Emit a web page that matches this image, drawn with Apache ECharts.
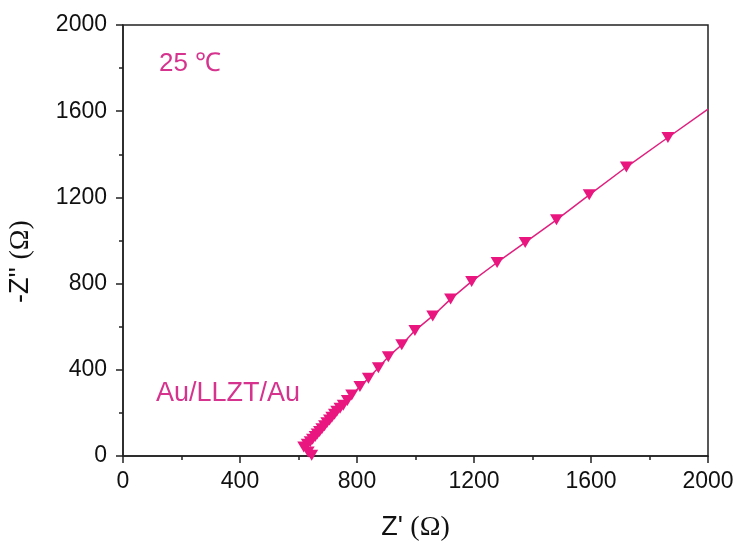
<!DOCTYPE html>
<html>
<head>
<meta charset="utf-8">
<script src="https://cdn.jsdelivr.net/npm/echarts@6/dist/echarts.min.js"></script>
<style>
html, body { margin: 0; padding: 0; background: #fff; }
#chart { width: 738px; height: 544px; }
</style>
</head>
<body>
<div id="chart"></div>
<script>
// measured points (Z', -Z'')
var zReal = [645, 633, 618, 630, 640, 648, 657, 664, 672, 680, 689, 697, 706, 714, 723, 731, 742, 753, 767, 782, 810, 839, 873, 907, 953, 998, 1059, 1120, 1192, 1279, 1375, 1482, 1594, 1721, 1863];
var zImag = [3, 18, 42, 55, 66, 78, 90, 102, 114, 126, 140, 154, 167, 180, 194, 208, 221, 236, 258, 283, 322, 361, 410, 461, 516, 582, 650, 728, 810, 898, 991, 1096, 1212, 1341, 1478];
// fitted line continues to the right edge
var fitEndX = [2000];
var fitEndY = [1610];
var xTicks = [0, 400, 800, 1200, 1600, 2000];
var yTicks = [0, 400, 800, 1200, 1600, 2000];

var pts = [];
for (var i = 0; i < zReal.length; i++) {
	pts.push([zReal[i], zImag[i]]);
}
var linePts = pts.concat([[fitEndX[0], fitEndY[0]]]);

var myChart = echarts.init(document.getElementById('chart'));

var axisCommon = {
	type : 'value',
	interval : 400,
	splitLine : { show : false },
	axisLine : { show : true, onZero : false, lineStyle : { color : '#222', width : 1.5 } },
	axisTick : { show : true, inside : false, length : 7, lineStyle : { color : '#222', width : 1.5 } },
	minorTick : { show : true, splitNumber : 2, length : 4, lineStyle : { color : '#222', width : 1.5 } },
	axisLabel : {
		color : '#111', fontSize : 23, fontFamily : 'Liberation Sans, Arial',
		formatter : function(v) { return String(v); }
	}
};

var nameStyle = {
	color : '#111', fontSize : 27, fontFamily : 'Liberation Sans, Arial',
	rich : { o : { fontSize : 28, fontFamily : 'Liberation Serif, Times New Roman', color : '#111' } }
};

var option = {
	animation : false,
	grid : {
		left : 123,
		top : 25,
		right : 30,
		bottom : 88,
		containLabel : false,
		outerBoundsMode : 'none',
		show : true,
		borderColor : '#222',
		borderWidth : 1.5
	},
	xAxis : echarts.util.merge({
		min : xTicks[0],
		max : xTicks[xTicks.length - 1],
		name : "Z' {o|(Ω)}",
		nameLocation : 'middle',
		nameGap : 58,
		nameTextStyle : nameStyle,
		axisLabel : { margin : 14 }
	}, axisCommon),
	yAxis : echarts.util.merge({
		min : yTicks[0],
		max : yTicks[yTicks.length - 1],
		name : "-Z'' {o|(Ω)}",
		nameLocation : 'middle',
		nameGap : 88,
		nameRotate : 90,
		nameTextStyle : echarts.util.merge({ padding : [0, 0, 0, -42] }, nameStyle),
		axisLabel : { margin : 16 }
	}, axisCommon),
	graphic : [
		{
			type : 'text', left : 159, top : 51,
			style : { text : '25 ℃', fill : '#D6338F', fontSize : 26, fontFamily : 'Liberation Sans, Arial' }
		},
		{
			type : 'text', left : 156, top : 380,
			style : { text : 'Au/LLZT/Au', fill : '#D6338F', fontSize : 27, fontFamily : 'Liberation Sans, Arial' }
		}
	],
	series : [
		{
			name : 'fit',
			type : 'line',
			data : linePts,
			showSymbol : false,
			symbol : 'none',
			lineStyle : { color : '#E0207F', width : 1.5 },
			z : 2
		},
		{
			name : 'data',
			type : 'scatter',
			data : pts,
			symbol : 'triangle',
			symbolRotate : 180,
			symbolSize : [13, 11],
			itemStyle : { color : '#EA1680', opacity : 1 },
			z : 3
		}
	]
};

myChart.setOption(option);
</script>
</body>
</html>
